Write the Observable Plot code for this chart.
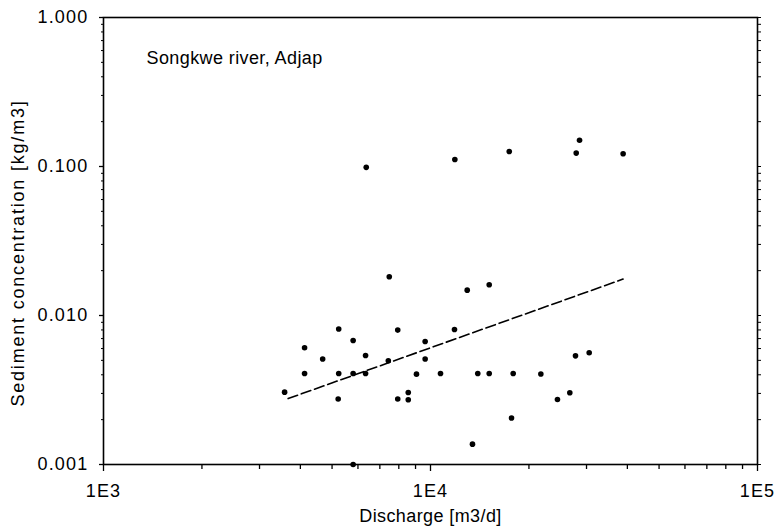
<!DOCTYPE html>
<html>
<head>
<meta charset="utf-8">
<script src="https://cdn.jsdelivr.net/npm/d3@7"></script>
<script src="https://cdn.jsdelivr.net/npm/@observablehq/plot@0.6"></script>
<style>
  html, body { margin: 0; padding: 0; background: #fff; }
  #chart svg { display: block; }
</style>
</head>
<body>
<div id="chart"></div>
<script>
// Data
const title = "Songkwe river, Adjap";
const xLabel = "Discharge [m3/d]";
const yLabel = "Sediment concentration [kg/m3]";

const discharge = [3580, 4120, 4120, 4680, 5240, 5240, 5220, 5800, 5800, 6330, 6330, 7480, 7430, 7940, 7940, 8550, 8550, 9060, 9630, 9630, 10730, 11840, 12950, 13950, 15120, 15120, 13440, 5800, 17900, 17690, 21750, 26670, 24450, 27760, 30570, 11870, 17410, 27900, 28560, 38820, 6360];
const concentration = [0.00306, 0.00607, 0.00408, 0.00510, 0.00811, 0.00408, 0.00275, 0.00680, 0.00408, 0.00539, 0.00408, 0.0182, 0.00497, 0.00798, 0.00275, 0.00304, 0.00272, 0.00404, 0.00669, 0.00510, 0.00408, 0.00805, 0.0148, 0.00408, 0.0161, 0.00408, 0.00137, 0.00100, 0.00408, 0.00205, 0.00405, 0.00303, 0.00273, 0.00536, 0.00562, 0.1114, 0.126, 0.123, 0.150, 0.1217, 0.0987];

// Trend line (power-law fit) end points
const trendDischarge = [3670, 38800];
const trendConcentration = [0.00277, 0.01755];

// Tick values and labels
const xTicks = [1e3, 1e4, 1e5];
const xTickLabels = ["1E3", "1E4", "1E5"];
const yTicks = [0.001, 0.01, 0.1, 1];
const yTickLabels = ["0.001", "0.010", "0.100", "1.000"];
const minorMultipliers = [2, 3, 4, 5, 6, 7, 8, 9];

const points = discharge.map((d, i) => ({x: d, y: concentration[i]}));
const trend = trendDischarge.map((d, i) => ({x: d, y: trendConcentration[i]}));
const xMinor = xTicks.slice(0, -1).flatMap(t => minorMultipliers.map(m => t * m));
const yMinor = yTicks.slice(0, -1).flatMap(t => minorMultipliers.map(m => t * m));

const chart = Plot.plot({
  width: 778,
  height: 532,
  marginLeft: 103,
  marginRight: 21,
  marginTop: 17,
  marginBottom: 68,
  style: {fontFamily: "'Liberation Sans', Arial, sans-serif", fontSize: "18px", color: "#000", background: "#fff"},
  x: {type: "log", domain: [1e3, 1e5]},
  y: {type: "log", domain: [0.001, 1]},
  marks: [
    Plot.frame({stroke: "#000", strokeWidth: 1.6}),
    // bottom axis: major labelled ticks + minor ticks
    Plot.axisX(xMinor, {anchor: "bottom", tickSize: 5, tickFormat: () => "", label: null, strokeWidth: 1.3}),
    Plot.axisX(xTicks, {anchor: "bottom", tickSize: 7, tickPadding: 13, strokeWidth: 1.3,
      tickFormat: d => xTickLabels[xTicks.indexOf(d)], label: null}),
    // left axis
    Plot.axisY(yMinor, {anchor: "left", tickSize: 2, tickFormat: () => "", label: null}),
    Plot.axisY(yTicks, {anchor: "left", tickSize: 4, tickPadding: 11, strokeWidth: 1.3,
      tickFormat: d => yTickLabels[yTicks.indexOf(d)], label: null}),
    // right axis (ticks only)
    Plot.axisY(yMinor.concat(yTicks), {anchor: "right", tickSize: 3, tickFormat: () => "", label: null}),
    // trend line
    Plot.line(trend, {x: "x", y: "y", stroke: "#000", strokeWidth: 1.6, strokeDasharray: "10,4"}),
    // data points
    Plot.dot(points, {x: "x", y: "y", r: 2.8, fill: "#000", stroke: "none"}),
    // texts
    Plot.text([title], {frameAnchor: "top-left", dx: 43, dy: 41, textAnchor: "start", lineAnchor: "middle", fontSize: 18}),
    Plot.text([xLabel], {frameAnchor: "bottom", dy: 52, textAnchor: "middle", lineAnchor: "middle", fontSize: 18}),
    Plot.text([yLabel], {frameAnchor: "left", dx: -85, dy: 12, rotate: -90, textAnchor: "middle", lineAnchor: "middle", fontSize: 18})
  ]
});

document.getElementById("chart").appendChild(chart);

// letter spacing to mimic the wider scanned typography
const sel = d3.select(chart);
sel.selectAll("g[aria-label='x-axis tick label'] text, g[aria-label='y-axis tick label'] text").style("letter-spacing", "1.2px");
sel.selectAll("g[aria-label='text'] text").style("letter-spacing", "0.4px");
sel.selectAll("g[aria-label='text'] text").filter(function() { return this.textContent === yLabel; }).style("letter-spacing", "1.8px");
</script>
</body>
</html>
